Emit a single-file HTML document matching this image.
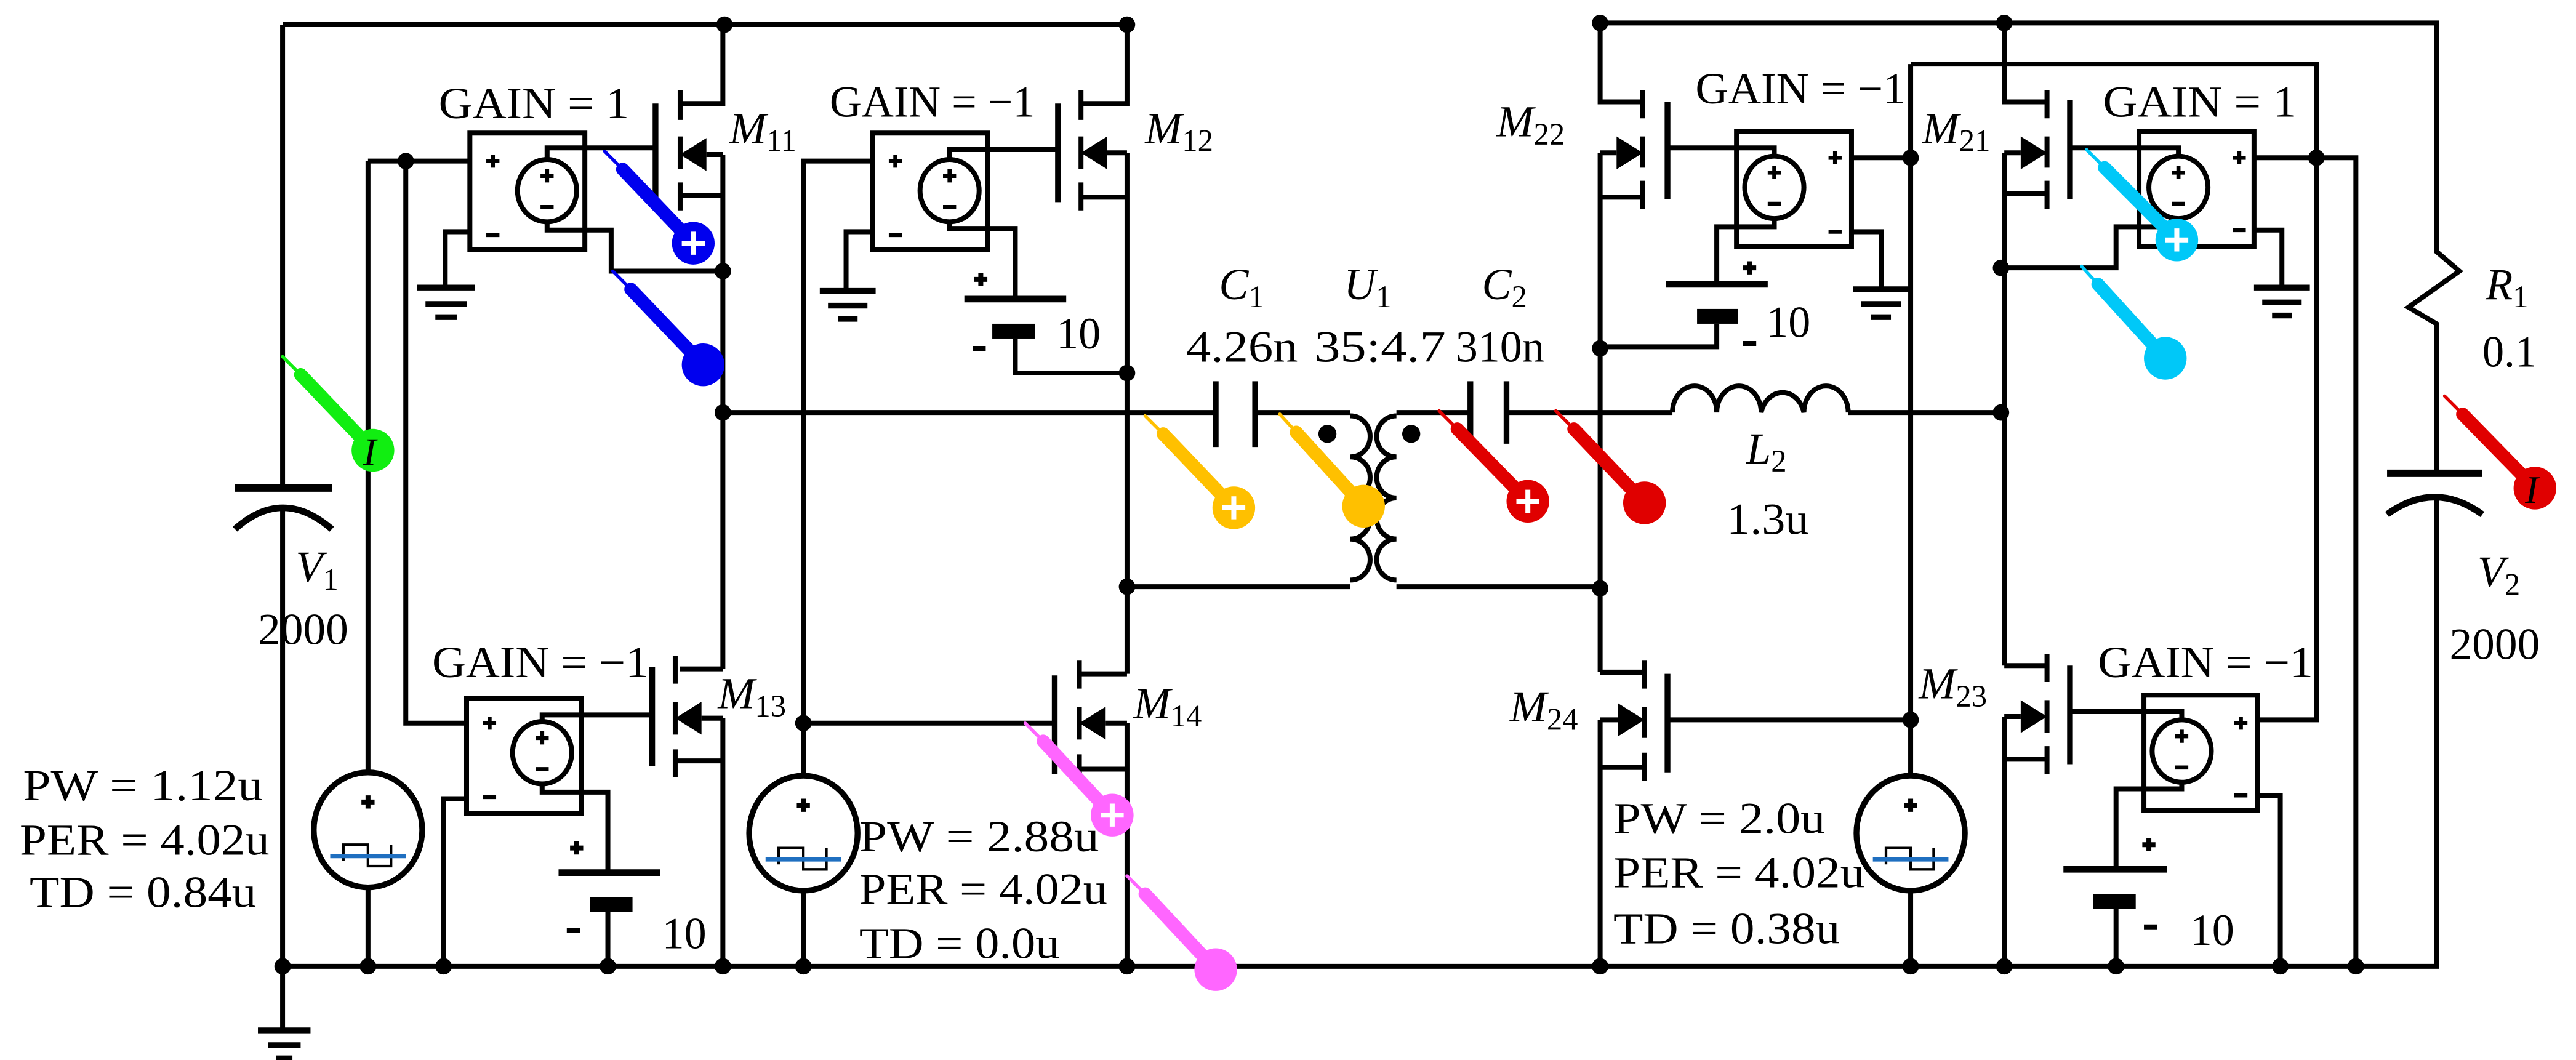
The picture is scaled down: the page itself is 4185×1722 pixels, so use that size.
<!DOCTYPE html>
<html><head><meta charset="utf-8"><style>
html,body{margin:0;padding:0;background:#fff;}
svg{display:block;}
text{font-family:"Liberation Serif",serif;fill:#000;}
</style></head><body>
<svg width="4185" height="1722" viewBox="0 0 1568 645" preserveAspectRatio="none" xmlns="http://www.w3.org/2000/svg">
<rect width="1568" height="645" fill="#fff"/>
<g fill="none" stroke="#000" stroke-width="3" stroke-linejoin="miter">
<path d="M172,15 H686"/>
<path d="M172,15 V297"/>
<path d="M143,297 H202" stroke-width="4.5"/>
<path d="M143,322 Q172,296 202,322" stroke-width="4"/>
<path d="M172,308 V627"/>
<path d="M157,627 H189 M163,636 H183 M168,644 H178" stroke-width="3.5"/>
<path d="M172,588 H1483 V302"/>
<path d="M224,98 H286 M224,98 V588"/>
<path d="M247,98 V440 H284"/>
<rect x="286" y="81" width="70" height="71"/>
<ellipse cx="333" cy="116" rx="18" ry="19"/>
<path d="M333,97 V90 H399"/>
<path d="M333,135 V140 H372 V165 H440"/>
<path d="M286,141 H271 V175"/>
<path d="M254,175 H289 M259,185 H284 M265,193 H278" stroke-width="3.5"/>
<path d="M399,63 V127" stroke-width="3.5"/>
<path d="M414,55 V73 M414,83 V103 M414,111 V128" stroke-width="3"/>
<path d="M414,63 H440 V15 M414,119 H440 M430,94 H440"/>
<path d="M440,94 V407 M414,407 H440 M440,437 V588"/>
<path d="M397,406 V466" stroke-width="3.5"/>
<path d="M411,399 V416 M411,427 V447 M411,456 V473"/>
<path d="M411,463 H440 M427,437 H440"/>
<path d="M440,251 H740"/>
<rect x="284" y="425" width="70" height="70"/>
<ellipse cx="330" cy="458" rx="18" ry="19"/>
<path d="M330,439 V435 H397"/>
<path d="M284,486 H270 V588"/>
<path d="M330,477 V482 H370 V531"/>
<path d="M340,531 H402" stroke-width="4"/>
<path d="M370,555 V588"/>
<rect x="531" y="81" width="70" height="71"/>
<ellipse cx="578" cy="116" rx="18" ry="19"/>
<path d="M578,97 V91 H644"/>
<path d="M531,98 H489 V588"/>
<path d="M489,440 H642"/>
<path d="M531,141 H515 V177"/>
<path d="M499,177 H533 M504,186 H528 M510,194 H522" stroke-width="3.5"/>
<path d="M578,135 V139 H618 V182"/>
<path d="M587,182 H649" stroke-width="4"/>
<path d="M618,206 V227 H686"/>
<path d="M644,63 V123" stroke-width="3.5"/>
<path d="M658,55 V73 M658,83 V103 M658,111 V128"/>
<path d="M658,63 H686 V15 M658,120 H686 M674,93 H686"/>
<path d="M686,93 V410 M657,410 H686 M686,440 V588"/>
<path d="M642,411 V471" stroke-width="3.5"/>
<path d="M657,402 V419 M657,430 V450 M657,459 V477"/>
<path d="M657,468 H686 M673,440 H686"/>
<path d="M740,232 V272 M764,232 V272" stroke-width="3.5"/>
<path d="M764,251 H822"/>
<path d="M686,357 H822"/>
<path d="M822,253 A12,12.5 0 0 1 822,278 A12,12.5 0 0 1 822,303 A12,12.5 0 0 1 822,328 A12,12.5 0 0 1 822,353" stroke-width="3"/>
<path d="M850,253 A12,12.5 0 0 0 850,278 A12,12.5 0 0 0 850,303 A12,12.5 0 0 0 850,328 A12,12.5 0 0 0 850,353" stroke-width="3"/>
<path d="M850,251 H895 M850,357 H974"/>
<path d="M895,232 V270 M917,232 V270" stroke-width="3.5"/>
<path d="M917,251 H1018"/>
<path d="M1018,251 A13.4,16 0 0 1 1045,251 A13.4,16 0 0 1 1072,251 A13.4,16 0 0 1 1098,251 A13.4,16 0 0 1 1125,251"/>
<path d="M1125,251 H1218"/>
<path d="M974,14 H1483 V153 L1497,165 L1466,187 L1483,197 V288"/>
<path d="M1453,288 H1511" stroke-width="4.5"/>
<path d="M1453,313 Q1482,292 1511,313" stroke-width="4"/>
<path d="M974,14 V62 H1000 M974,93 V409 M974,438 V588"/>
<path d="M1015,62 V121" stroke-width="3.5"/>
<path d="M1000,55 V72 M1000,83 V102 M1000,110 V127"/>
<path d="M974,120 H1000 M974,93 H984"/>
<rect x="1057" y="80" width="70" height="70"/>
<ellipse cx="1080" cy="114" rx="18" ry="19"/>
<path d="M1015,90 H1080 V95"/>
<path d="M1127,96 H1163"/>
<path d="M1127,141 H1145 V176"/>
<path d="M1128,176 H1162 M1133,185 H1157 M1139,193 H1151" stroke-width="3.5"/>
<path d="M1080,133 V138 H1045 V173"/>
<path d="M1014,173 H1076" stroke-width="4"/>
<path d="M1045,197 V211 H974"/>
<path d="M1163,39 V588 M1163,39 H1410 V438 H1374"/>
<path d="M1015,438 H1163"/>
<path d="M1015,410 V470" stroke-width="3.5"/>
<path d="M1001,402 V419 M1001,430 V449 M1001,458 V475"/>
<path d="M974,409 H1001 M974,467 H1001 M974,438 H985"/>
<path d="M1220,14 V62 H1246 M1220,93 V405 M1220,436 V588"/>
<path d="M1260,61 V121" stroke-width="3.5"/>
<path d="M1246,55 V72 M1246,83 V102 M1246,110 V127"/>
<path d="M1220,118 H1246 M1220,93 H1230"/>
<rect x="1302" y="80" width="70" height="70"/>
<ellipse cx="1326" cy="114" rx="18" ry="19"/>
<path d="M1260,90 H1326 V95"/>
<path d="M1372,96 H1434 V588"/>
<path d="M1372,140 H1389 V175"/>
<path d="M1372,175 H1406 M1377,184 H1401 M1383,192 H1395" stroke-width="3.5"/>
<path d="M1326,133 V138 H1288 V163 H1218"/>
<path d="M1260,405 V465" stroke-width="3.5"/>
<path d="M1246,398 V415 M1246,426 V446 M1246,454 V471"/>
<path d="M1220,405 H1246 M1220,462 H1246 M1220,436 H1230"/>
<rect x="1305" y="423" width="69" height="70"/>
<ellipse cx="1328" cy="457" rx="18" ry="19"/>
<path d="M1260,433 H1328 V438"/>
<path d="M1374,484 H1388 V588"/>
<path d="M1328,476 V480 H1288 V529"/>
<path d="M1256,529 H1319" stroke-width="4"/>
<path d="M1288,553 V588"/>
</g>
<g fill="#000" stroke="none">
<polygon points="414,94 430,84 430,104"/>
<polygon points="658,93 674,83 674,103"/>
<polygon points="411,437 427,427 427,447"/>
<polygon points="657,440 673,430 673,450"/>
<polygon points="1000,93 984,83 984,103"/>
<polygon points="1001,438 985,428 985,448"/>
<polygon points="1246,93 1230,83 1230,103"/>
<polygon points="1246,436 1230,426 1230,446"/>
<rect x="604" y="197" width="26" height="9"/>
<rect x="359" y="546" width="26" height="9"/>
<rect x="1033" y="188" width="25" height="9"/>
<rect x="1274" y="544" width="26" height="9"/>
<ellipse cx="441" cy="15" rx="5" ry="5"/><ellipse cx="686" cy="15" rx="5" ry="5"/>
<ellipse cx="247" cy="98" rx="5" ry="5"/><ellipse cx="440" cy="165" rx="5" ry="5"/>
<ellipse cx="440" cy="251" rx="5" ry="5"/><ellipse cx="686" cy="227" rx="5" ry="5"/>
<ellipse cx="686" cy="357" rx="5" ry="5"/><ellipse cx="489" cy="440" rx="5" ry="5"/>
<ellipse cx="172" cy="588" rx="5" ry="5"/><ellipse cx="224" cy="588" rx="5" ry="5"/>
<ellipse cx="270" cy="588" rx="5" ry="5"/><ellipse cx="370" cy="588" rx="5" ry="5"/>
<ellipse cx="440" cy="588" rx="5" ry="5"/><ellipse cx="489" cy="588" rx="5" ry="5"/>
<ellipse cx="686" cy="588" rx="5" ry="5"/>
<ellipse cx="808" cy="264" rx="5.5" ry="5.5"/><ellipse cx="859" cy="264" rx="5.5" ry="5.5"/>
<ellipse cx="974" cy="14" rx="5" ry="5"/><ellipse cx="1220" cy="14" rx="5" ry="5"/>
<ellipse cx="974" cy="212" rx="5" ry="5"/><ellipse cx="974" cy="358" rx="5" ry="5"/>
<ellipse cx="1163" cy="96" rx="5" ry="5"/><ellipse cx="1410" cy="96" rx="5" ry="5"/>
<ellipse cx="1218" cy="163" rx="5" ry="5"/><ellipse cx="1218" cy="251" rx="5" ry="5"/>
<ellipse cx="1163" cy="438" rx="5" ry="5"/>
<ellipse cx="974" cy="588" rx="5" ry="5"/><ellipse cx="1163" cy="588" rx="5" ry="5"/>
<ellipse cx="1220" cy="588" rx="5" ry="5"/><ellipse cx="1288" cy="588" rx="5" ry="5"/>
<ellipse cx="1388" cy="588" rx="5" ry="5"/><ellipse cx="1434" cy="588" rx="5" ry="5"/>
</g>
<g stroke="#000" stroke-width="2.5" fill="none">
<path d="M296,98 H304 M300,94 V102 M296,143 H304"/>
<path d="M329,107 H337 M333,103 V111 M329,126 H337"/>
<path d="M541,98 H549 M545,94 V102 M541,143 H549"/>
<path d="M574,107 H582 M578,103 V111 M574,126 H582"/>
<path d="M294,440 H302 M298,436 V444 M294,485 H302"/>
<path d="M326,449 H334 M330,445 V453 M326,468 H334"/>
<path d="M1113,96 H1121 M1117,92 V100 M1113,141 H1121"/>
<path d="M1076,105 H1084 M1080,101 V109 M1076,124 H1084"/>
<path d="M1359,96 H1367 M1363,92 V100 M1359,140 H1367"/>
<path d="M1322,105 H1330 M1326,101 V109 M1322,124 H1330"/>
<path d="M1360,440 H1368 M1364,436 V444 M1360,484 H1368"/>
<path d="M1324,448 H1332 M1328,444 V452 M1324,467 H1332"/>
<path d="M593,170 H601 M597,166 V174 M592,212 H600" stroke-width="3"/>
<path d="M347,516 H355 M351,512 V520 M345,566 H353" stroke-width="3"/>
<path d="M1061,163 H1069 M1065,159 V167 M1061,209 H1069" stroke-width="3"/>
<path d="M1304,514 H1312 M1308,510 V518 M1305,564 H1313" stroke-width="3"/>
</g>
<g>
<ellipse cx="224" cy="505" rx="33" ry="35" fill="#fff" stroke="#000" stroke-width="3.5"/>
<path d="M220,488 H228 M224,484 V492" stroke="#000" stroke-width="3"/>
<path d="M209,524 V514 H224 V527 H238 V514" fill="none" stroke="#000" stroke-width="1.6"/>
<path d="M201,521 H247" stroke="#1f6fc0" stroke-width="2.5"/>
<ellipse cx="489" cy="507" rx="33" ry="35" fill="#fff" stroke="#000" stroke-width="3.5"/>
<path d="M485,490 H493 M489,486 V494" stroke="#000" stroke-width="3"/>
<path d="M474,526 V516 H489 V529 H503 V516" fill="none" stroke="#000" stroke-width="1.6"/>
<path d="M466,523 H512" stroke="#1f6fc0" stroke-width="2.5"/>
<ellipse cx="1163" cy="507" rx="33" ry="35" fill="#fff" stroke="#000" stroke-width="3.5"/>
<path d="M1159,490 H1167 M1163,486 V494" stroke="#000" stroke-width="3"/>
<path d="M1148,526 V516 H1163 V529 H1177 V516" fill="none" stroke="#000" stroke-width="1.6"/>
<path d="M1140,523 H1186" stroke="#1f6fc0" stroke-width="2.5"/>
</g>
<g font-size="27">
<text x="267" y="72" textLength="116" lengthAdjust="spacingAndGlyphs">GAIN = 1</text>
<text x="505" y="71" textLength="125" lengthAdjust="spacingAndGlyphs">GAIN = −1</text>
<text x="263" y="412" textLength="132" lengthAdjust="spacingAndGlyphs">GAIN = −1</text>
<text x="1032" y="63" textLength="128" lengthAdjust="spacingAndGlyphs">GAIN = −1</text>
<text x="1280" y="71" textLength="118" lengthAdjust="spacingAndGlyphs">GAIN = 1</text>
<text x="1277" y="412" textLength="131" lengthAdjust="spacingAndGlyphs">GAIN = −1</text>
<text x="444" y="87"><tspan font-style="italic">M</tspan><tspan font-size="19" dy="5">11</tspan></text>
<text x="697" y="87"><tspan font-style="italic">M</tspan><tspan font-size="19" dy="5">12</tspan></text>
<text x="437" y="431"><tspan font-style="italic">M</tspan><tspan font-size="19" dy="5">13</tspan></text>
<text x="690" y="437"><tspan font-style="italic">M</tspan><tspan font-size="19" dy="5">14</tspan></text>
<text x="911" y="83"><tspan font-style="italic">M</tspan><tspan font-size="19" dy="5">22</tspan></text>
<text x="1170" y="87"><tspan font-style="italic">M</tspan><tspan font-size="19" dy="5">21</tspan></text>
<text x="919" y="439"><tspan font-style="italic">M</tspan><tspan font-size="19" dy="5">24</tspan></text>
<text x="1168" y="425"><tspan font-style="italic">M</tspan><tspan font-size="19" dy="5">23</tspan></text>
<text x="742" y="182"><tspan font-style="italic">C</tspan><tspan font-size="19" dy="5">1</tspan></text>
<text x="722" y="220" textLength="68" lengthAdjust="spacingAndGlyphs">4.26n</text>
<text x="818" y="182"><tspan font-style="italic">U</tspan><tspan font-size="19" dy="5">1</tspan></text>
<text x="800" y="220" textLength="80" lengthAdjust="spacingAndGlyphs">35:4.7</text>
<text x="902" y="182"><tspan font-style="italic">C</tspan><tspan font-size="19" dy="5">2</tspan></text>
<text x="886" y="220" textLength="54" lengthAdjust="spacingAndGlyphs">310n</text>
<text x="1063" y="282"><tspan font-style="italic">L</tspan><tspan font-size="19" dy="5">2</tspan></text>
<text x="1051" y="325" textLength="50" lengthAdjust="spacingAndGlyphs">1.3u</text>
<text x="1513" y="182"><tspan font-style="italic">R</tspan><tspan font-size="19" dy="5">1</tspan></text>
<text x="1511" y="223" textLength="33" lengthAdjust="spacingAndGlyphs">0.1</text>
<text x="180" y="354"><tspan font-style="italic">V</tspan><tspan font-size="19" dy="5">1</tspan></text>
<text x="157" y="392" textLength="55" lengthAdjust="spacingAndGlyphs">2000</text>
<text x="1508" y="357"><tspan font-style="italic">V</tspan><tspan font-size="19" dy="5">2</tspan></text>
<text x="1491" y="401" textLength="55" lengthAdjust="spacingAndGlyphs">2000</text>
<text x="643" y="212">10</text>
<text x="1075" y="205">10</text>
<text x="403" y="577">10</text>
<text x="1333" y="575">10</text>
<text x="14" y="487" textLength="146" lengthAdjust="spacingAndGlyphs">PW = 1.12u</text>
<text x="12" y="520" textLength="152" lengthAdjust="spacingAndGlyphs">PER = 4.02u</text>
<text x="18" y="552" textLength="138" lengthAdjust="spacingAndGlyphs">TD = 0.84u</text>
<text x="523" y="518" textLength="146" lengthAdjust="spacingAndGlyphs">PW = 2.88u</text>
<text x="523" y="550" textLength="151" lengthAdjust="spacingAndGlyphs">PER = 4.02u</text>
<text x="523" y="583" textLength="122" lengthAdjust="spacingAndGlyphs">TD = 0.0u</text>
<text x="982" y="507" textLength="129" lengthAdjust="spacingAndGlyphs">PW = 2.0u</text>
<text x="982" y="540" textLength="153" lengthAdjust="spacingAndGlyphs">PER = 4.02u</text>
<text x="982" y="574" textLength="138" lengthAdjust="spacingAndGlyphs">TD = 0.38u</text>
</g>
<g stroke-linecap="round">
<g stroke="#0000ee" fill="#0000ee"><path d="M368,92 L379,103" stroke-width="2"/><path d="M379,103 L422,148" stroke-width="8"/><circle cx="422" cy="148" r="13" stroke="none"/></g>
<g stroke="#0000ee" fill="#0000ee"><path d="M373,165 L384,176" stroke-width="2"/><path d="M384,176 L428,222" stroke-width="8"/><circle cx="428" cy="222" r="13" stroke="none"/></g>
<g stroke="#11ee11" fill="#11ee11"><path d="M172,217 L183,228" stroke-width="2"/><path d="M183,228 L227,274" stroke-width="8"/><circle cx="227" cy="274" r="13" stroke="none"/></g>
<g stroke="#ffc000" fill="#ffc000"><path d="M697,253 L708,264" stroke-width="2"/><path d="M708,264 L751,309" stroke-width="8"/><circle cx="751" cy="309" r="13" stroke="none"/></g>
<g stroke="#ffc000" fill="#ffc000"><path d="M779,252 L789,263" stroke-width="2"/><path d="M789,263 L830,308" stroke-width="8"/><circle cx="830" cy="308" r="13" stroke="none"/></g>
<g stroke="#e00000" fill="#e00000"><path d="M876,250 L887,261" stroke-width="2"/><path d="M887,261 L930,305" stroke-width="8"/><circle cx="930" cy="305" r="13" stroke="none"/></g>
<g stroke="#e00000" fill="#e00000"><path d="M947,250 L958,261" stroke-width="2"/><path d="M958,261 L1001,306" stroke-width="8"/><circle cx="1001" cy="306" r="13" stroke="none"/></g>
<g stroke="#00c8f8" fill="#00c8f8"><path d="M1270,91 L1281,102" stroke-width="2"/><path d="M1281,102 L1325,146" stroke-width="8"/><circle cx="1325" cy="146" r="13" stroke="none"/></g>
<g stroke="#00c8f8" fill="#00c8f8"><path d="M1267,162 L1277,173" stroke-width="2"/><path d="M1277,173 L1318,218" stroke-width="8"/><circle cx="1318" cy="218" r="13" stroke="none"/></g>
<g stroke="#e00000" fill="#e00000"><path d="M1488,241 L1499,252" stroke-width="2"/><path d="M1499,252 L1543,297" stroke-width="8"/><circle cx="1543" cy="297" r="13" stroke="none"/></g>
<g stroke="#ff66ff" fill="#ff66ff"><path d="M624,440 L635,451" stroke-width="2"/><path d="M635,451 L677,496" stroke-width="8"/><circle cx="677" cy="496" r="13" stroke="none"/></g>
<g stroke="#ff66ff" fill="#ff66ff"><path d="M686,533 L697,544" stroke-width="2"/><path d="M697,544 L740,590" stroke-width="8"/><circle cx="740" cy="590" r="13" stroke="none"/></g>
</g>
<g stroke="#fff" stroke-width="3" stroke-linecap="butt">
<path d="M415,148 H429 M422,141 V155"/>
<path d="M744,309 H758 M751,302 V316"/>
<path d="M923,305 H937 M930,298 V312"/>
<path d="M1318,146 H1332 M1325,139 V153"/>
<path d="M670,496 H684 M677,489 V503"/>
</g>
<text x="221" y="283" font-size="24" font-style="italic">I</text>
<text x="1537" y="306" font-size="24" font-style="italic">I</text>
</svg>
</body></html>
